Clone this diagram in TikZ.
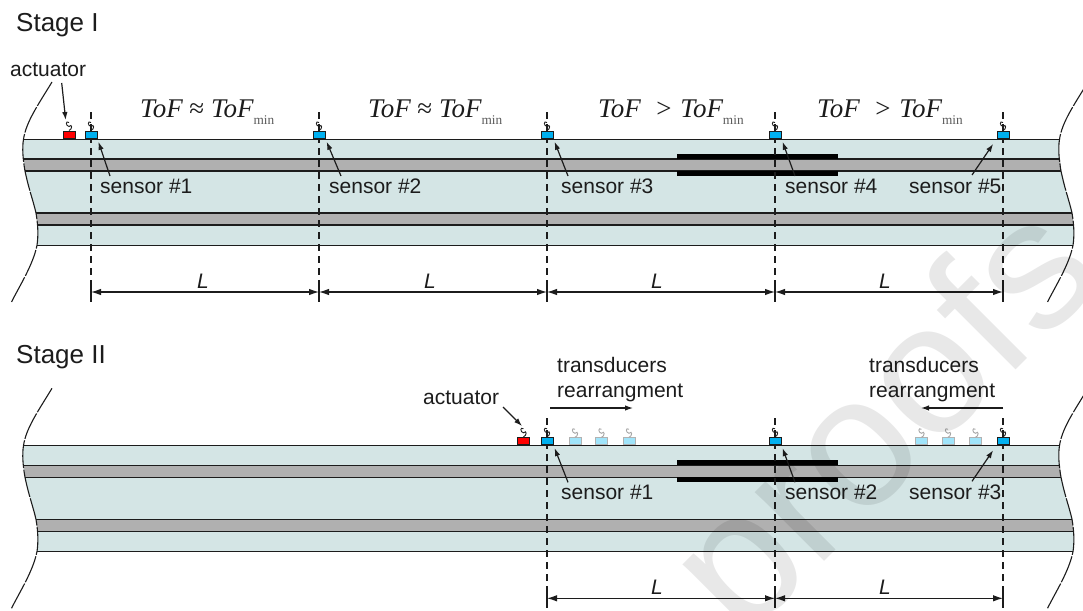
\documentclass[tikz,border=0pt]{standalone}
\usepackage{fontspec}
\setmainfont{Liberation Sans}
\newfontfamily\tofserif{Liberation Serif}
\usetikzlibrary{arrows.meta}
\definecolor{stripfill}{HTML}{D4E5E5}
\definecolor{bandfill}{HTML}{B0B0B0}
\definecolor{ink}{HTML}{1C1C1C}
\definecolor{sensorblue}{HTML}{00B0F0}
\definecolor{fadeblue}{HTML}{A0E4FA}
\tikzset{
  lab/.style={font=\fontsize{21}{25}\selectfont,text=ink,inner sep=0pt,anchor=base west},
  stagelab/.style={font=\fontsize{26}{30}\selectfont,text=ink,inner sep=0pt,anchor=base west},
  ital/.style={font=\fontsize{21}{25}\selectfont\itshape,text=ink,inner sep=0pt},
  tof/.style={font=\fontsize{27}{30}\selectfont\tofserif,text=ink,inner sep=0pt,anchor=base west},
  sensorbox/.style={draw=ink,line width=1pt,fill=sensorblue,minimum width=12pt,minimum height=7.5pt,inner sep=0pt,anchor=south},
  actbox/.style={sensorbox,fill=red},
  fadebox/.style={draw=black!30,line width=1pt,fill=fadeblue,minimum width=12pt,minimum height=7pt,inner sep=0pt,anchor=south},
  ptr/.style={draw=ink,line width=1.2pt,-{Latex[length=8pt,width=5.5pt]}},
  dim/.style={draw=ink,line width=1.1pt,{Latex[length=10pt,width=6.5pt]}-{Latex[length=10pt,width=6.5pt]}},
  guide/.style={draw=ink,line width=1.05pt,dash pattern=on 7pt off 5pt},
  tick/.style={draw=ink,line width=1.05pt},
  edge/.style={draw=ink,line width=1.1pt,dash pattern=on 28pt off 1.5pt},
  rail/.style={draw=ink,line width=1.3pt},
  squig/.style={draw=ink,line width=.9pt},
  fadesquig/.style={draw=black!35,line width=.9pt},
}
% squiggle above a transducer box
\newcommand\wiggle[2]{\draw[#1] (#2.north) .. controls +(3.5,-1) and +(3.5,-3.5) .. ++(0,-4) .. controls +(-3.5,-.5) and +(-3.5,-2.5) .. ++(0,-4);}
\newcommand\tofmin{\upshape\raisebox{-7pt}{\fontsize{13.3}{14}\selectfont\color{black!65}min}}
% the strip with both torn edges
\newcommand\stripbody{%
  \fill[stripfill] (23.5,139.3) .. controls (22,148) and (23,160) .. (25,171)
     .. controls (29,190) and (33,200) .. (36,213) .. controls (38,225) and (38.5,235) .. (37,245.3)
     -- (1073,245.3) .. controls (1074.5,235) and (1074,225) .. (1072,213)
     .. controls (1069,200) and (1065,190) .. (1061,171) .. controls (1059,160) and (1058,148) .. (1059.5,139.3) -- cycle;
  \fill[bandfill] (24,159) -- (25,171) -- (1061,171) -- (1060,159) -- cycle;
  \fill[bandfill] (36,213) -- (37.5,225) -- (1073.5,225) -- (1072,213) -- cycle;
  \draw[rail] (23.5,139.3) -- (1059.5,139.3);
  \draw[rail] (24,159) -- (1060,159);
  \draw[rail] (25,171) -- (1061,171);
  \draw[rail] (36,213) -- (1072,213);
  \draw[rail] (37.5,225) -- (1073.5,225);
  \draw[rail] (37,245.3) -- (1073,245.3);
  \foreach \dx in {0,1036}{
    \draw[edge,xshift=\dx pt] (52,82) .. controls (38,105) and (26,122) .. (23.5,139.3)
       .. controls (22,148) and (23,160) .. (25,171) .. controls (29,190) and (33,200) .. (36,213)
       .. controls (38,225) and (38.5,235) .. (37,245.3) .. controls (33,265) and (20,285) .. (11,303);
  }
  \fill[black] (677,154) rectangle (838,159);
  \fill[black] (677,171) rectangle (838,176);
}
\begin{document}
\begin{tikzpicture}[x=1pt,y=-1pt]
\useasboundingbox (0,0) rectangle (1083,610);
\clip (0,0) rectangle (1083,610);

% ---------- Stage I
\node[stagelab] (stageA) at (16,32) {Stage I};
\stripbody
\foreach \x in {91,319,547,775,1003}{
  \draw[guide] (\x,112) -- (\x,285);
  \draw[tick] (\x,285) -- (\x,302);
}
\node[actbox] (actA) at (69,139) {};
\node[sensorbox] (sA1) at (91,139) {};
\node[sensorbox] (sA2) at (319,139) {};
\node[sensorbox] (sA3) at (547,139) {};
\node[sensorbox] (sA4) at (775,139) {};
\node[sensorbox] (sA5) at (1003,139) {};
\foreach \n in {actA,sA1,sA2,sA3,sA4,sA5}{\wiggle{squig}{\n}}

\node[lab] (actlabA) at (10,77) {actuator};
\coordinate (actfromA) at (61.7,83);
\coordinate (acttipA) at (65.7,120);
\draw[ptr] (actfromA) -- (acttipA);

\node[lab] (labA1) at (100,193) {sensor \#1};
\node[lab] (labA2) at (329,193) {sensor \#2};
\node[lab] (labA3) at (561,193) {sensor \#3};
\node[lab] (labA4) at (785,193) {sensor \#4};
\node[lab] (labA5) at (909,193) {sensor \#5};
\coordinate (fromA1) at (110,176);
\coordinate (fromA2) at (341,176);
\coordinate (fromA3) at (568,176);
\coordinate (fromA4) at (795,176);
\coordinate (fromA5) at (972,175);
\draw[ptr,shorten >=3pt] (fromA1) -- (sA1.south east);
\draw[ptr,shorten >=3pt] (fromA2) -- (sA2.south east);
\draw[ptr,shorten >=3pt] (fromA3) -- (sA3.south east);
\draw[ptr,shorten >=3pt] (fromA4) -- (sA4.south east);
\draw[ptr,shorten >=6pt] (fromA5) -- (sA5.south west);

\node[tof] (tofA1) at (140,117) {\itshape ToF\upshape{} ≈ \itshape ToF\tofmin};
\node[tof] (tofA2) at (368,117) {\itshape ToF\upshape{} ≈ \itshape ToF\tofmin};
\node[tof] (tofA3) at (598,117) {\itshape ToF\upshape{}\hspace{9pt} > \hspace{2pt}\itshape ToF\tofmin};
\node[tof] (tofA4) at (817,117) {\itshape ToF\upshape{}\hspace{9pt} > \hspace{2pt}\itshape ToF\tofmin};

\coordinate (dA1) at (91,292); \coordinate (dA2) at (319,292); \coordinate (dA3) at (547,292);
\coordinate (dA4) at (775,292); \coordinate (dA5) at (1003,292);
\draw[dim] (dA1) -- (dA2);
\draw[dim] (dA2) -- (dA3);
\draw[dim] (dA3) -- (dA4);
\draw[dim] (dA4) -- (dA5);
\node[ital] (lenA1) at (203,281) {L};
\node[ital] (lenA2) at (430,281) {L};
\node[ital] (lenA3) at (657,281) {L};
\node[ital] (lenA4) at (885,281) {L};

% ---------- Stage II
\node[stagelab] (stageB) at (16,363) {Stage II};
\begin{scope}[yshift=-306.3pt]
  \stripbody
  \foreach \x in {547,775,1003}{
    \draw[guide] (\x,112) -- (\x,285);
    \draw[tick] (\x,285) -- (\x,302);
  }
  \node[actbox] (actB) at (523.5,139) {};
  \node[sensorbox] (sB1) at (547,139) {};
  \node[sensorbox] (sB2) at (775,139) {};
  \node[sensorbox] (sB3) at (1003,139) {};
  \node[fadebox] (fa1) at (575,139) {};
  \node[fadebox] (fa2) at (601.5,139) {};
  \node[fadebox] (fa3) at (629,139) {};
  \node[fadebox] (fb1) at (921.5,139) {};
  \node[fadebox] (fb2) at (948,139) {};
  \node[fadebox] (fb3) at (975.5,139) {};
  \foreach \n in {actB,sB1,sB2,sB3}{\wiggle{squig}{\n}}
  \foreach \n in {fa1,fa2,fa3,fb1,fb2,fb3}{\wiggle{fadesquig}{\n}}

  \node[lab] (labB1) at (561,193) {sensor \#1};
  \node[lab] (labB2) at (785,193) {sensor \#2};
  \node[lab] (labB3) at (909,193) {sensor \#3};
  \coordinate (fromB1) at (568,176);
  \coordinate (fromB2) at (795,176);
  \coordinate (fromB3) at (972,175);
  \draw[ptr,shorten >=3pt] (fromB1) -- (sB1.south east);
  \draw[ptr,shorten >=3pt] (fromB2) -- (sB2.south east);
  \draw[ptr,shorten >=6pt] (fromB3) -- (sB3.south west);

  \coordinate (dB1) at (547,292); \coordinate (dB2) at (775,292); \coordinate (dB3) at (1003,292);
  \draw[dim] (dB1) -- (dB2);
  \draw[dim] (dB2) -- (dB3);
  \node[ital] (lenB1) at (657,281) {L};
  \node[ital] (lenB2) at (885,281) {L};
\end{scope}

\node[lab] (actlabB) at (423,404) {actuator};
\coordinate (actfromB) at (503,407);
\coordinate (acttipB) at (522,426);
\draw[ptr] (actfromB) -- (acttipB);

\node[lab] (trA1) at (557,372) {transducers};
\node[lab] (trA2) at (557,397) {rearrangment};
\node[lab] (trB1) at (869,372) {transducers};
\node[lab] (trB2) at (869,397) {rearrangment};
\coordinate (mvA0) at (550,408); \coordinate (mvA1) at (633,408);
\coordinate (mvB0) at (1003,408); \coordinate (mvB1) at (921,408);
\draw[ptr] (mvA0) -- (mvA1);
\draw[ptr] (mvB0) -- (mvB1);

% ---------- watermark
\node[font=\fontsize{185}{200}\selectfont,text=black,opacity=.09,text opacity=.09,inner sep=0pt,anchor=base west,rotate=45] (wm) at (743,643) {proofs};
\end{tikzpicture}
\end{document}
